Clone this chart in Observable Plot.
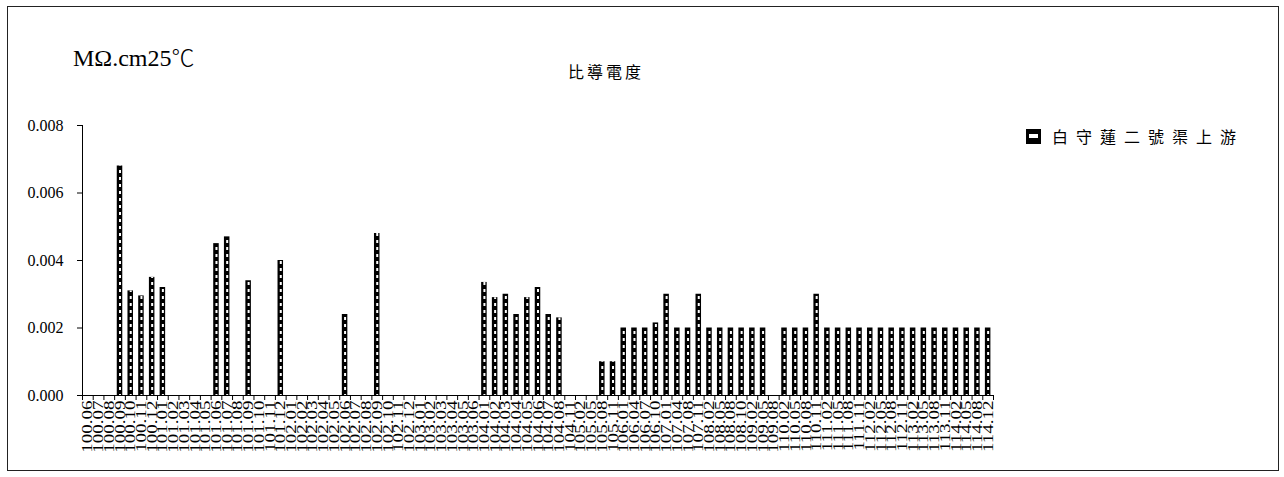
<!DOCTYPE html>
<html><head><meta charset="utf-8">
<script src="https://cdn.jsdelivr.net/npm/d3@7"></script>
<script src="https://cdn.jsdelivr.net/npm/@observablehq/plot@0.6"></script>
<style>
html,body{margin:0;padding:0;background:#fff;}
body{width:1284px;height:477px;position:relative;overflow:hidden;}
#frame{position:absolute;left:7px;top:6px;width:1272px;height:465px;border:1px solid #222;box-sizing:border-box;}
#unit{position:absolute;left:73px;top:45px;font-size:24px;line-height:1;font-family:"Liberation Serif",serif;color:#000;white-space:nowrap;}
#unit span{font-family:"Noto Sans CJK TC",sans-serif;font-size:23px;font-weight:300;}
#title{position:absolute;left:568px;top:63px;font-size:16px;line-height:1;font-family:"Noto Sans CJK TC",sans-serif;letter-spacing:3px;color:#000;white-space:nowrap;}
#legend{position:absolute;left:1026px;top:128px;height:16px;display:flex;align-items:center;font-size:16px;line-height:1;font-family:"Noto Sans CJK TC",sans-serif;letter-spacing:8px;color:#000;white-space:nowrap;}
#legend .sw{width:15px;height:15px;background:#000;position:relative;margin-right:11px;}
#legend .sw i{position:absolute;left:3px;right:3px;top:5px;height:4px;background:#fff;}
#chart{position:absolute;left:0;top:0;}
</style></head>
<body>
<div id="frame"></div>
<div id="chart"></div>
<div id="unit">MΩ.cm25<span>℃</span></div>
<div id="title">比導電度</div>
<div id="legend"><div class="sw"><i></i></div><span id="series"></span></div>
<script>
const seriesName = "白守蓮二號渠上游";
const labels = [
"100.06","100.07","100.08","100.09","100.10","100.11","100.12",
"101.01","101.02","101.03","101.04","101.05","101.06","101.07","101.08","101.09","101.10","101.11","101.12",
"102.01","102.02","102.03","102.04","102.05","102.06","102.07","102.08","102.09","102.10","102.11","102.12",
"103.01","103.02","103.03","103.04","103.05","103.06",
"104.01","104.02","104.03","104.04","104.05","104.06","104.07","104.08","104.11",
"105.02","105.05","105.08","105.11",
"106.01","106.04","106.07","106.10",
"107.01","107.04","107.08","107.11",
"108.02","108.05","108.08","108.10",
"109.02","109.05","109.08",
"110.02","110.05","110.08","110.11",
"111.02","111.05","111.08","111.11",
"112.02","112.05","112.08","112.11",
"113.02","113.05","113.08","113.11",
"114.02","114.05","114.08","114.12"
];
const values = [
null,null,null,0.0068,0.0031,0.00295,0.0035,0.0032,null,null,
null,null,0.0045,0.0047,null,0.0034,null,null,0.0040,null,
null,null,null,null,0.0024,null,null,0.0048,null,null,
null,null,null,null,null,null,null,0.00335,0.0029,0.0030,
0.0024,0.0029,0.0032,0.0024,0.0023,null,null,null,0.0010,0.0010,
0.002,0.002,0.002,0.00215,0.003,0.002,0.002,0.003,0.002,0.002,
0.002,0.002,0.002,0.002,null,0.002,0.002,0.002,0.003,0.002,
0.002,0.002,0.002,0.002,0.002,0.002,0.002,0.002,0.002,0.002,
0.002,0.002,0.002,0.002,0.002
];
const yTicks = [0, 0.002, 0.004, 0.006, 0.008];

document.getElementById("series").textContent = seriesName;

const data = labels.map((label, i) => ({i, label, v: values[i]})).filter(d => d.v != null);
const n = labels.length;

const chart = Plot.plot({
  width: 1284,
  height: 477,
  marginLeft: 82,
  marginRight: 291,
  marginTop: 125,
  marginBottom: 82,
  style: {fontFamily: "'Liberation Serif', serif", color: "#000", background: "transparent", overflow: "visible"},
  x: {type: "linear", domain: [0, n]},
  y: {domain: [0, 0.008]},
  marks: [
    Plot.rectY(data, {x1: "i", x2: d => d.i + 1, y: "v", fill: "#000", insetLeft: 2.6, insetRight: 2.6}),
    Plot.ruleX(data, {x: d => d.i + 0.5, y1: 0, y2: "v", stroke: "#fff", strokeWidth: 2, strokeDasharray: "3 4", insetTop: 2}),
    Plot.ruleY([0], {stroke: "#000"}),
    Plot.ruleX([0], {stroke: "#000"}),
    Plot.axisY({ticks: yTicks, tickFormat: d3.format(".3f"), tickSize: 5, tickPadding: 14, fontSize: 16, label: null}),
    Plot.axisX({ticks: d3.range(n + 1), tickSize: 5, tickFormat: () => "", label: null}),
    Plot.axisX({ticks: d3.range(n).map(i => i + 0.5), tickSize: 0, tickPadding: 5, tickRotate: -90,
      tickFormat: v => labels[Math.floor(v)], fontSize: 19, label: null})
  ]
});
document.getElementById("chart").appendChild(chart);
chart.querySelectorAll('g[aria-label="x-axis tick label"] text').forEach(t => {
  if (t.textContent) {
    const tr = t.getAttribute("transform") || "";
    t.setAttribute("transform", tr + " scale(1,0.75)");
  }
});
</script>
</body></html>
